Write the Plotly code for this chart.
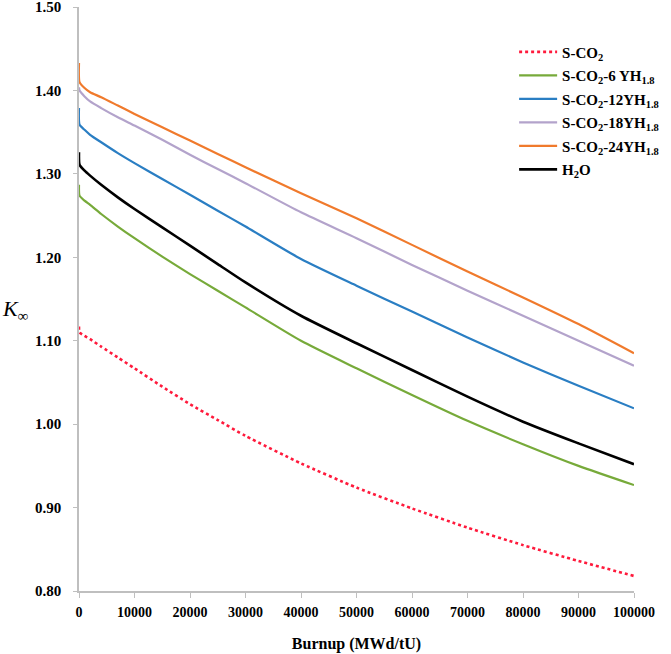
import plotly.graph_objects as go

burnup = [0, 100, 1000, 2000, 4000, 7000, 10000, 15000, 20000, 25000, 30000,
          40000, 50000, 60000, 70000, 80000, 90000, 100000]

k_sco2 = [1.117, 1.110, 1.106, 1.102, 1.093, 1.080, 1.067, 1.045, 1.024, 1.005, 0.986,
          0.953, 0.924, 0.899, 0.876, 0.855, 0.836, 0.818]
k_6yh = [1.287, 1.274, 1.268, 1.263, 1.252, 1.237, 1.223, 1.201, 1.180, 1.160, 1.140,
         1.100, 1.067, 1.035, 1.004, 0.976, 0.950, 0.927]
k_12yh = [1.379, 1.359, 1.353, 1.347, 1.338, 1.325, 1.313, 1.294, 1.275, 1.256, 1.237,
          1.198, 1.166, 1.135, 1.104, 1.074, 1.046, 1.019]
k_18yh = [1.404, 1.400, 1.393, 1.387, 1.379, 1.368, 1.358, 1.341, 1.323, 1.306, 1.289,
          1.254, 1.223, 1.191, 1.160, 1.130, 1.100, 1.070]
k_24yh = [1.433, 1.410, 1.403, 1.398, 1.392, 1.382, 1.372, 1.356, 1.340, 1.324, 1.308,
          1.277, 1.247, 1.215, 1.183, 1.152, 1.120, 1.085]
k_h2o = [1.326, 1.311, 1.304, 1.298, 1.287, 1.272, 1.258, 1.236, 1.214, 1.192, 1.170,
         1.130, 1.097, 1.065, 1.033, 1.003, 0.977, 0.952]

x_ticks = [0, 10000, 20000, 30000, 40000, 50000, 60000, 70000, 80000, 90000, 100000]
x_tick_labels = ["0", "10000", "20000", "30000", "40000", "50000", "60000",
                 "70000", "80000", "90000", "100000"]
y_ticks = [0.80, 0.90, 1.00, 1.10, 1.20, 1.30, 1.40, 1.50]
y_tick_labels = ["0.80", "0.90", "1.00", "1.10", "1.20", "1.30", "1.40", "1.50"]

names = ["S-CO<sub>2</sub>",
         "S-CO<sub>2</sub>-6 YH<sub>1.8</sub>",
         "S-CO<sub>2</sub>-12YH<sub>1.8</sub>",
         "S-CO<sub>2</sub>-18YH<sub>1.8</sub>",
         "S-CO<sub>2</sub>-24YH<sub>1.8</sub>",
         "H<sub>2</sub>O"]
series = [k_sco2, k_6yh, k_12yh, k_18yh, k_24yh, k_h2o]
colors = ["#FF1A3C", "#77AA3A", "#2A7EC3", "#B3A3CB", "#F07A2C", "#000000"]
dashes = ["dot", "solid", "solid", "solid", "solid", "solid"]
widths = [2.6, 2.2, 2.2, 2.2, 2.2, 2.6]

FONT = "Liberation Serif, Times New Roman, serif"

fig = go.Figure()
for i, (nm, ys, c, d, w) in enumerate(zip(names, series, colors, dashes, widths)):
    fig.add_trace(go.Scatter(x=burnup, y=ys, mode="lines", name=nm,
                             legendgroup="g%d" % i,
                             line=dict(color=c, width=w, dash=d,
                                       shape="spline", smoothing=0.6)))

fig.update_layout(
    width=671, height=654,
    margin=dict(l=79, r=37, t=7, b=63),
    paper_bgcolor="white", plot_bgcolor="white",
    font=dict(family=FONT, size=14, color="black", weight="bold"),
    showlegend=True,
    legend=dict(x=0.784, y=0.951, xanchor="left", yanchor="top",
                bgcolor="rgba(255,255,255,0)", tracegroupgap=1,
                font=dict(family=FONT, size=15, color="black", weight="bold"),
                itemwidth=38),
    xaxis=dict(range=[0, 100000], tickmode="array", tickvals=x_ticks,
               ticktext=x_tick_labels, showgrid=False, automargin=False,
               zeroline=False, showline=True, linecolor="#BFBFBF", linewidth=1.5,
               ticks="outside", ticklen=5, tickcolor="#BFBFBF", tickwidth=1.2,
               ticklabelstandoff=2, ticklabeloverflow="allow",
               tickfont=dict(family=FONT, size=14, weight="bold"),
               title=dict(text="Burnup (MWd/tU)", standoff=19,
                          font=dict(family=FONT, size=16, weight="bold"))),
    yaxis=dict(range=[0.80, 1.5002], tickmode="array", tickvals=y_ticks,
               ticktext=y_tick_labels, automargin=False, ticklabeloverflow="allow",
               showgrid=False, zeroline=False, showline=True, linecolor="#BFBFBF",
               linewidth=1.5, ticks="outside", ticklen=4, tickcolor="#BFBFBF",
               tickwidth=1.2, ticklabelstandoff=9,
               tickfont=dict(family=FONT, size=15, weight="bold")),
)

fig.add_annotation(xref="paper", yref="paper", x=-0.115, y=0.481,
                   text="<i>K</i><sub>∞</sub>", showarrow=False,
                   xanchor="center", yanchor="middle",
                   font=dict(family=FONT, size=22, color="black", weight="normal"))

fig.write_html("out.html", config={"displayModeBar": False},
               post_script="document.body.style.margin='0px';")
